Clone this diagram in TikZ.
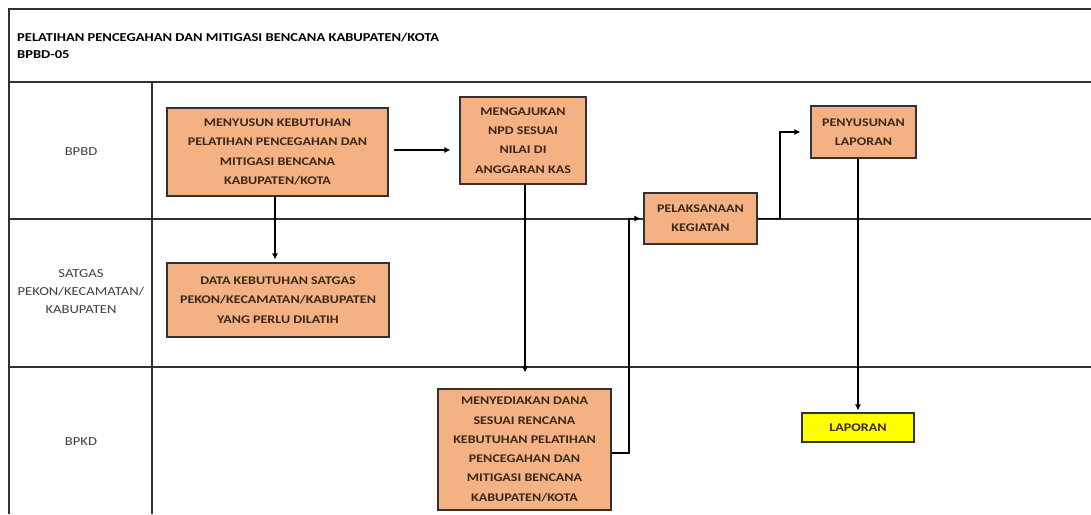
\documentclass[tikz,border=0pt]{standalone}
\usepackage{fontspec}
\setmainfont{Carlito}[FakeStretch=1.2]
\usetikzlibrary{arrows.meta}
\definecolor{boxfill}{HTML}{F4B183}
\definecolor{boxtext}{RGB}{58,40,26}
\definecolor{linec}{RGB}{50,50,50}
\definecolor{laporanfill}{HTML}{FFFF00}
\tikzset{
  grid/.style={draw=linec, line width=1.3pt},
  procbox/.style={draw=linec, line width=1.1pt, fill=boxfill, align=center, inner sep=0pt,
     text=boxtext, font=\fontsize{11.7}{19.3}\selectfont\bfseries},
  outbox/.style={procbox, fill=laporanfill},
  lanelabel/.style={align=center, text=black!75, font=\fontsize{12.2}{18}\selectfont},
  flow/.style={draw=black, line width=1.1pt, -{Latex[length=6pt,width=6pt]}},
}
\begin{document}
\begin{tikzpicture}[x=1pt,y=-1pt]
\useasboundingbox (0,0) rectangle (1091,514);
\fill[white] (0,0) rectangle (1091,514);
% frame and lanes
\draw[grid] (9,514) -- (9,9) -- (1091,9);
\draw[grid] (9,82) -- (1091,82);
\draw[grid] (9,219) -- (1091,219);
\draw[grid] (9,367) -- (1091,367);
\draw[grid] (152,82) -- (152,514);
% title
\node[anchor=north west, align=left, inner sep=0pt, font=\fontsize{12.1}{17}\selectfont\bfseries] (title) at (17,32.5)
  {PELATIHAN PENCEGAHAN DAN MITIGASI BENCANA KABUPATEN/KOTA\\BPBD-05};
% lane labels
\node[lanelabel] (lbpbd) at (81,152) {BPBD};
\node[lanelabel] (lsatgas) at (81,292) {SATGAS\\PEKON/KECAMATAN/\\KABUPATEN};
\node[lanelabel] (lbpkd) at (81,442) {BPKD};
% boxes
\node[procbox, minimum width=221pt, minimum height=88pt] (b1) at (277.5,152)
  {MENYUSUN KEBUTUHAN\\PELATIHAN PENCEGAHAN DAN\\MITIGASI BENCANA\\KABUPATEN/KOTA};
\node[procbox, minimum width=126pt, minimum height=87pt] (b2) at (523,140.5)
  {MENGAJUKAN\\NPD SESUAI\\NILAI DI\\ANGGARAN KAS};
\node[procbox, minimum width=222pt, minimum height=74pt] (data) at (278,300)
  {DATA KEBUTUHAN SATGAS\\PEKON/KECAMATAN/KABUPATEN\\YANG PERLU DILATIH};
\node[procbox, minimum width=173pt, minimum height=121pt] (dana) at (524.5,449.5)
  {MENYEDIAKAN DANA\\SESUAI RENCANA\\KEBUTUHAN PELATIHAN\\PENCEGAHAN DAN\\MITIGASI BENCANA\\KABUPATEN/KOTA};
\node[procbox, minimum width=113pt, minimum height=51pt] (laks) at (700.5,218.5)
  {PELAKSANAAN\\KEGIATAN};
\node[procbox, minimum width=105pt, minimum height=52pt] (susun) at (863.5,132)
  {PENYUSUNAN\\LAPORAN};
\node[outbox, minimum width=112pt, minimum height=29pt] (lap) at (858,427.5) {LAPORAN};
% connectors
\draw[flow, shorten <=5pt, shorten >=9pt] (b1.east |- 0,150) -- (b2.west |- 0,150);
\draw[flow, shorten >=3pt] (b1.south -| 275,0) -- (data.north -| 275,0);
\draw[flow, shorten >=16pt] (b2.south -| 525,0) -- (dana.north -| 525,0);
\draw[flow, shorten >=3pt] (dana.east |- 0,453) -- (629,453) |- (laks.west);
\draw[flow, shorten >=10pt] (laks.east) -- (780,218.5) |- (susun.west);
\draw[flow, shorten >=2pt] (susun.south -| lap.north) -- (lap.north);
\end{tikzpicture}
\end{document}
